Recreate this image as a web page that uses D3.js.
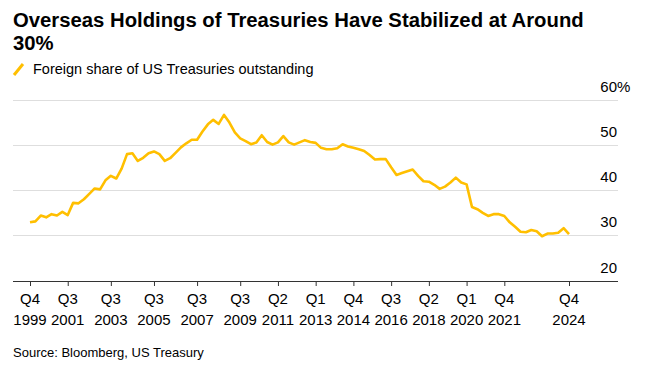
<!DOCTYPE html>
<html>
<head>
<meta charset="utf-8">
<title>Foreign share of US Treasuries</title>
<script src="https://cdn.jsdelivr.net/npm/d3@7"></script>
<style>
body { margin: 0; background: #fff; }
text { font-family: "Liberation Sans", Arial, sans-serif; fill: #000; }
.grid line { stroke: #dedede; stroke-width: 1px; }
</style>
</head>
<body>
<script>

// quarterly, Q4 1999 .. Q4 2024 (percent)
var firstQuarter = { year: 1999, q: 4 };
var share = [
  32.9, 33.1, 34.4, 34.0, 34.7, 34.4, 35.2, 34.5, 37.2, 37.1,
  38.0, 39.2, 40.4, 40.2, 42.2, 43.2, 42.6, 44.8, 48.0, 48.2,
  46.5, 47.2, 48.2, 48.6, 48.0, 46.5, 47.1, 48.3, 49.5, 50.4,
  51.2, 51.2, 53.0, 54.6, 55.6, 54.7, 56.7, 55.0, 52.8, 51.5,
  50.9, 50.2, 50.6, 52.2, 50.7, 50.1, 50.6, 52.0, 50.6, 50.1,
  50.6, 51.1, 50.7, 50.5, 49.4, 49.1, 49.1, 49.3, 50.2, 49.7,
  49.4, 49.1, 48.7, 47.8, 46.8, 46.9, 46.9, 45.1, 43.4, 43.8,
  44.2, 44.6, 43.2, 42.0, 41.9, 41.2, 40.3, 40.8, 41.7, 42.8,
  41.7, 41.3, 36.3, 35.8, 35.0, 34.3, 34.7, 34.7, 34.3, 32.9,
  31.9, 30.8, 30.7, 31.2, 30.9, 29.8, 30.4, 30.4, 30.6, 31.6,
  30.3
];

var xTickLabels = ["Q4 1999", "Q3 2001", "Q3 2003", "Q3 2005", "Q3 2007",
  "Q3 2009", "Q2 2011", "Q1 2013", "Q4 2014", "Q3 2016", "Q2 2018",
  "Q1 2020", "Q4 2021", "Q4 2024"];
var yTicks = [20, 30, 40, 50, 60];

var title = ["Overseas Holdings of Treasuries Have Stabilized at Around", "30%"];
var legendLabel = "Foreign share of US Treasuries outstanding";
var source = "Source: Bloomberg, US Treasury";

var width = 653, height = 370;
var left = 13, right = 618;

var svg = d3.select("body").append("svg")
    .attr("width", width)
    .attr("height", height);

svg.append("rect").attr("width", width).attr("height", height).attr("fill", "#fff");

// quarter index from "Qn YYYY"
function quarterIndex(label) {
  var parts = label.split(" ");
  var q = +parts[0].slice(1), yr = +parts[1];
  return (yr - firstQuarter.year) * 4 + (q - firstQuarter.q);
}

var x = d3.scaleLinear()
    .domain([0, share.length - 1])
    .range([30, 569]);

var y = d3.scaleLinear()
    .domain([20, 60])
    .range([280.5, 100]);

// title
svg.append("g").selectAll("text")
    .data(title)
    .enter().append("text")
    .attr("x", left)
    .attr("y", function(d, i) { return 27 + i * 23; })
    .style("font-size", "20.3px")
    .style("font-weight", "bold")
    .text(function(d) { return d; });

// legend
svg.append("line")
    .attr("x1", 14).attr("y1", 75)
    .attr("x2", 23).attr("y2", 64)
    .attr("stroke", "#ffbf00")
    .attr("stroke-width", 3);

svg.append("text")
    .attr("x", 33)
    .attr("y", 74)
    .style("font-size", "14.5px")
    .text(legendLabel);

// gridlines
svg.append("g")
    .attr("class", "grid")
    .selectAll("line")
    .data(yTicks.filter(function(d) { return d > 20; }))
    .enter().append("line")
    .attr("x1", left)
    .attr("x2", right)
    .attr("y1", function(d) { return Math.round(y(d)) + 0.5; })
    .attr("y2", function(d) { return Math.round(y(d)) + 0.5; });

// y labels (sit above their gridline, right side)
var yLab = svg.append("g");
yLab.selectAll("text")
    .data(yTicks)
    .enter().append("text")
    .attr("x", right - 1)
    .attr("y", function(d) { return y(d) - 8; })
    .attr("text-anchor", "end")
    .style("font-size", "15px")
    .text(function(d) { return d; });
yLab.append("text")
    .attr("x", right - 1)
    .attr("y", y(60) - 8)
    .style("font-size", "15px")
    .text("%");

// x axis
var xAxis = d3.axisBottom(x)
    .tickValues(xTickLabels.map(quarterIndex))
    .tickSize(5)
    .tickFormat("");

var gx = svg.append("g")
    .attr("transform", "translate(0," + Math.round(y(20)) + ")")
    .call(xAxis);
gx.select(".domain").remove();
gx.selectAll(".tick line").attr("stroke", "#333");
gx.append("line")
    .attr("x1", left).attr("x2", right)
    .attr("y1", 0.5).attr("y2", 0.5)
    .attr("stroke", "#333");

var tickText = svg.append("g").selectAll("text")
    .data(xTickLabels)
    .enter().append("text")
    .attr("x", function(d) { return x(quarterIndex(d)); })
    .attr("text-anchor", "middle")
    .style("font-size", "15px");
tickText.append("tspan")
    .attr("x", function(d) { return x(quarterIndex(d)); })
    .attr("y", 304)
    .text(function(d) { return d.split(" ")[0]; });
tickText.append("tspan")
    .attr("x", function(d) { return x(quarterIndex(d)); })
    .attr("y", 325)
    .text(function(d) { return d.split(" ")[1]; });

// the line
var line = d3.line()
    .x(function(d, i) { return x(i); })
    .y(function(d) { return y(d); });

svg.append("path")
    .datum(share)
    .attr("d", line)
    .attr("fill", "none")
    .attr("stroke", "#ffbf00")
    .attr("stroke-width", 2.6)
    .attr("stroke-linejoin", "round");

// source
svg.append("text")
    .attr("x", left)
    .attr("y", 357)
    .style("font-size", "13px")
    .text(source);

</script>
</body>
</html>
